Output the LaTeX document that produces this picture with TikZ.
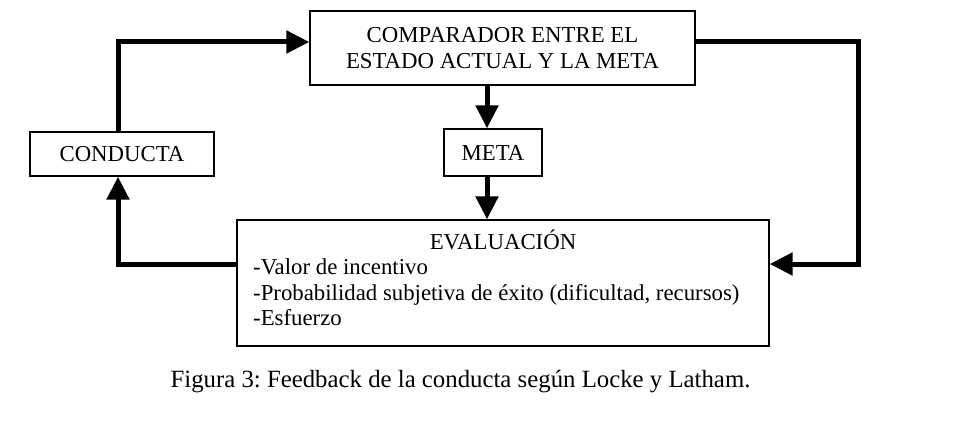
\documentclass[tikz,border=0pt]{standalone}
\usepackage{fontspec}
\setmainfont{Liberation Serif}
\usetikzlibrary{arrows.meta}
\frenchspacing
\begin{document}
\begin{tikzpicture}[x=1pt,y=-1pt,
  box/.style={draw,line width=1.3pt,inner sep=0pt},
  flow/.style={line width=5pt,line join=miter,-{Triangle[length=23pt,width=22pt]}},
  txt/.style={inner sep=0pt},
  font=\fontsize{22.8}{25.5}\selectfont]
\useasboundingbox[fill=white] (0,0) rectangle (955,428);
\node[box,minimum width=385,minimum height=74,align=center] (comp) at (502.5,48) {COMPARADOR ENTRE EL\\ESTADO ACTUAL Y LA META};
\node[box,minimum width=184,minimum height=44] (cond) at (122,154) {CONDUCTA};
\node[box,minimum width=98,minimum height=47] (meta) at (493,152.5) {META};
\node[box,minimum width=532,minimum height=126] (eval) at (503,283) {};
\node[txt,anchor=base] (evt) at (503,249) {EVALUACIÓN};
\node[txt,anchor=base west] (e1) at (253,274.5) {-Valor de incentivo};
\node[txt,anchor=base west] (e2) at (253,300) {-Probabilidad subjetiva de éxito (dificultad, recursos)};
\node[txt,anchor=base west] (e3) at (253,325.5) {-Esfuerzo};
\node[txt,anchor=base,font=\fontsize{24.8}{28}\selectfont] (cap) at (460.5,387) {Figura 3: Feedback de la conducta según Locke y Latham.};
\coordinate (ax) at (487,0);
\coordinate (lb) at (118,264);
\coordinate (lt) at (118,42);
\coordinate (rt) at (858,42);
\coordinate (rb) at (858,264);
\draw[flow] (ax |- comp.south) -- (ax |- meta.north);
\draw[flow] (ax |- meta.south) -- (ax |- eval.north);
\draw[flow] (eval.west |- lb) -- (lb) -- (lb |- cond.south);
\draw[flow] (lb |- cond.north) -- (lt) -- (comp.west |- lt);
\draw[flow] (comp.east |- rt) -- (rt) -- (rb) -- (eval.east |- rb);
\end{tikzpicture}
\end{document}
